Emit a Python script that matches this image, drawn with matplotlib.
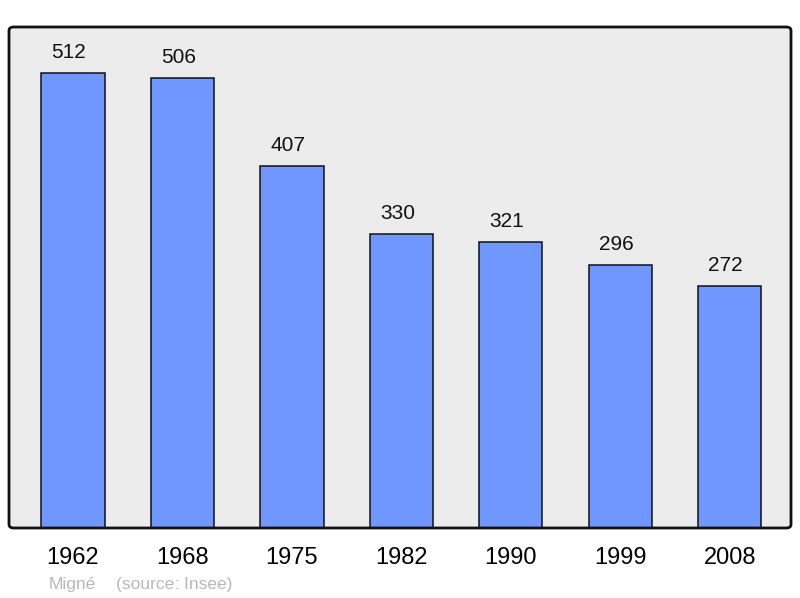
import matplotlib
matplotlib.use("Agg")
import matplotlib.pyplot as plt
from matplotlib.patches import FancyBboxPatch
from matplotlib.transforms import offset_copy

years = ["1962", "1968", "1975", "1982", "1990", "1999", "2008"]
population = [512, 506, 407, 330, 321, 296, 272]
town = "Migné"
source = "(source: Insee)"

plt.rcParams['font.family'] = ['Liberation Sans', 'DejaVu Sans']

W, H = 800, 598
fig = plt.figure(figsize=(8, 5.98), dpi=100)
L, R, T, B = 9, 791, 27, 528
ax = fig.add_axes([L / W, 1 - B / H, (R - L) / W, (B - T) / H])
ax.set_facecolor('none')
ax.set_zorder(2)
for s in ax.spines.values():
    s.set_visible(False)

bg = FancyBboxPatch((L / W, 1 - B / H), (R - L) / W, (B - T) / H,
                    boxstyle="round,pad=0,rounding_size=0.006",
                    transform=fig.transFigure, facecolor='#ececec',
                    edgecolor='none', zorder=0)
fig.patches.append(bg)
frame = FancyBboxPatch((L / W, 1 - B / H), (R - L) / W, (B - T) / H,
                       boxstyle="round,pad=0,rounding_size=0.006",
                       transform=fig.transFigure, facecolor='none',
                       edgecolor='#111111', linewidth=2, zorder=3)
fig.patches.append(frame)

x = list(range(len(years)))
ax.bar(x, population, width=0.578, color='#7097ff', edgecolor='#111111',
       linewidth=1.1, zorder=2)
ax.set_xlim(-0.585, 6.56)
ax.set_ylim(0, max(population) * 1.1)
ax.set_yticks([])
ax.set_xticks(x)
ax.set_xticklabels(years, fontsize=17)
ax.tick_params(axis='x', length=0, pad=14)

off = offset_copy(ax.transData, fig=fig, x=-4, y=11, units='dots')
for xi, v in zip(x, population):
    ax.text(xi, v, str(v), transform=off, ha='center', va='bottom',
            fontsize=15, color='#111111')

fig.text(49 / W, 1 - 584 / H, town, fontsize=12.5, color='#b8b8b8',
         ha='left', va='center')
fig.text(116 / W, 1 - 584 / H, source, fontsize=12.5, color='#b8b8b8',
         ha='left', va='center')

fig.savefig("out.png", dpi=100)
